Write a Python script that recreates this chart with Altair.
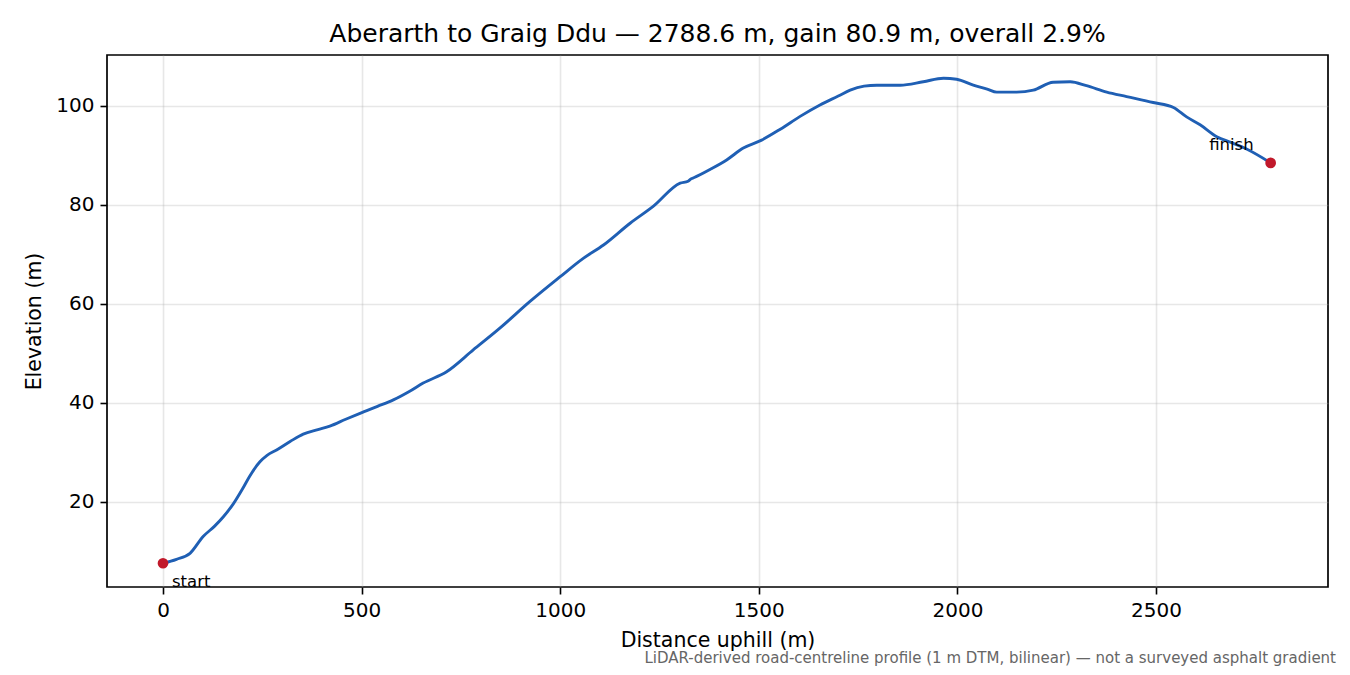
import altair as alt
import pandas as pd

# elevation profile (distance along road, metres)
dist_m = [0, 34, 68, 101, 130, 152, 177, 200, 219, 244, 262, 286, 320, 353,
          390, 420, 460, 496, 540, 580, 620, 655, 714, 781, 848, 924, 1000,
          1058, 1109, 1176, 1234, 1302, 1322, 1330, 1336, 1380, 1419, 1461,
          1507, 1554, 1604, 1654, 1700, 1730, 1765, 1797, 1856, 1914, 1965,
          1998, 2040, 2075, 2099, 2149, 2191, 2241, 2284, 2325, 2376, 2426,
          2493, 2544, 2577, 2611, 2653, 2690, 2728, 2788.6]
elev_m = [7.6, 8.4, 9.6, 13.0, 15.1, 17.0, 19.6, 22.6, 25.3, 28.1, 29.4, 30.5,
          32.2, 33.7, 34.6, 35.3, 36.7, 37.9, 39.3, 40.6, 42.3, 44.0, 46.3,
          50.7, 55.1, 60.5, 65.5, 69.2, 71.9, 76.3, 79.7, 84.4, 84.8, 85.3,
          85.5, 87.3, 89.1, 91.5, 93.1, 95.3, 97.9, 100.2, 102.0, 103.2,
          104.0, 104.2, 104.2, 104.9, 105.6, 105.4, 104.2, 103.4, 102.8,
          102.8, 103.2, 104.8, 104.9, 104.1, 102.8, 101.9, 100.7, 99.7, 97.8,
          96.2, 93.8, 92.6, 91.3, 88.5]

marker_dist = [0, 2788.6]
marker_elev = [7.6, 88.5]
marker_label = ["start", "finish"]

TITLE = "Aberarth to Graig Ddu \u2014 2788.6 m, gain 80.9 m, overall 2.9%"
NOTE = ("LiDAR-derived road-centreline profile (1 m DTM, bilinear) \u2014 "
        "not a surveyed asphalt gradient")
FONT = "DejaVu Sans"

profile = pd.DataFrame({"dist": dist_m, "elev": elev_m})
ends = pd.DataFrame({"dist": marker_dist, "elev": marker_elev, "label": marker_label})

x_scale = alt.Scale(domain=[-141, 2933], nice=False, zero=False)
y_scale = alt.Scale(domain=[2.8, 110.3], nice=False, zero=False)

x_enc = alt.X("dist:Q", scale=x_scale, title="Distance uphill (m)",
              axis=alt.Axis(values=[0, 500, 1000, 1500, 2000, 2500], format="d",
                            titlePadding=10))
y_enc = alt.Y("elev:Q", scale=y_scale, title="Elevation (m)",
              axis=alt.Axis(values=[20, 40, 60, 80, 100], format="d", titlePadding=11))

line = alt.Chart(profile).mark_line(
    color="#1f5fb4", strokeWidth=2.9, interpolate="monotone"
).encode(x=x_enc, y=y_enc, order="dist:Q")

dots = alt.Chart(ends).mark_circle(color="#c1192b", size=115, opacity=1).encode(
    x="dist:Q", y="elev:Q")

start_txt = alt.Chart(ends).transform_filter(alt.datum.label == "start").mark_text(
    align="left", baseline="alphabetic", dx=9, dy=24, font=FONT, fontSize=16.5,
    color="black").encode(x="dist:Q", y="elev:Q", text="label:N")

finish_txt = alt.Chart(ends).transform_filter(alt.datum.label == "finish").mark_text(
    align="right", baseline="alphabetic", dx=-17, dy=-12.5, font=FONT, fontSize=16.5,
    color="black").encode(x="dist:Q", y="elev:Q", text="label:N")

note = alt.Chart(pd.DataFrame({"note": [NOTE]})).mark_text(
    align="right", baseline="alphabetic", font=FONT, fontSize=15,
    color="#666666").encode(x=alt.value(1229), y=alt.value(608), text="note:N")

chart = (
    alt.layer(line, dots, start_txt, finish_txt, note)
    .properties(
        width=1221, height=532,
        title=alt.TitleParams(TITLE, font=FONT, fontSize=25, fontWeight="normal",
                              color="black", anchor="middle", offset=8),
        autosize=alt.AutoSizeParams(type="none"),
        padding={"left": 99, "top": 47, "right": 14, "bottom": 80},
    )
    .configure_view(stroke="black", strokeWidth=1.7)
    .configure_axis(
        domain=False, grid=True, gridColor="#b0b0b0", gridOpacity=0.3, gridWidth=1.6,
        tickColor="black", tickWidth=1.6, tickSize=7, labelPadding=6,
        labelFont=FONT, labelFontSize=20, labelColor="black",
        titleFont=FONT, titleFontSize=20.5, titleFontWeight="normal", titleColor="black",
    )
)

chart.save("out.html", embed_options={"renderer": "svg", "actions": False})
